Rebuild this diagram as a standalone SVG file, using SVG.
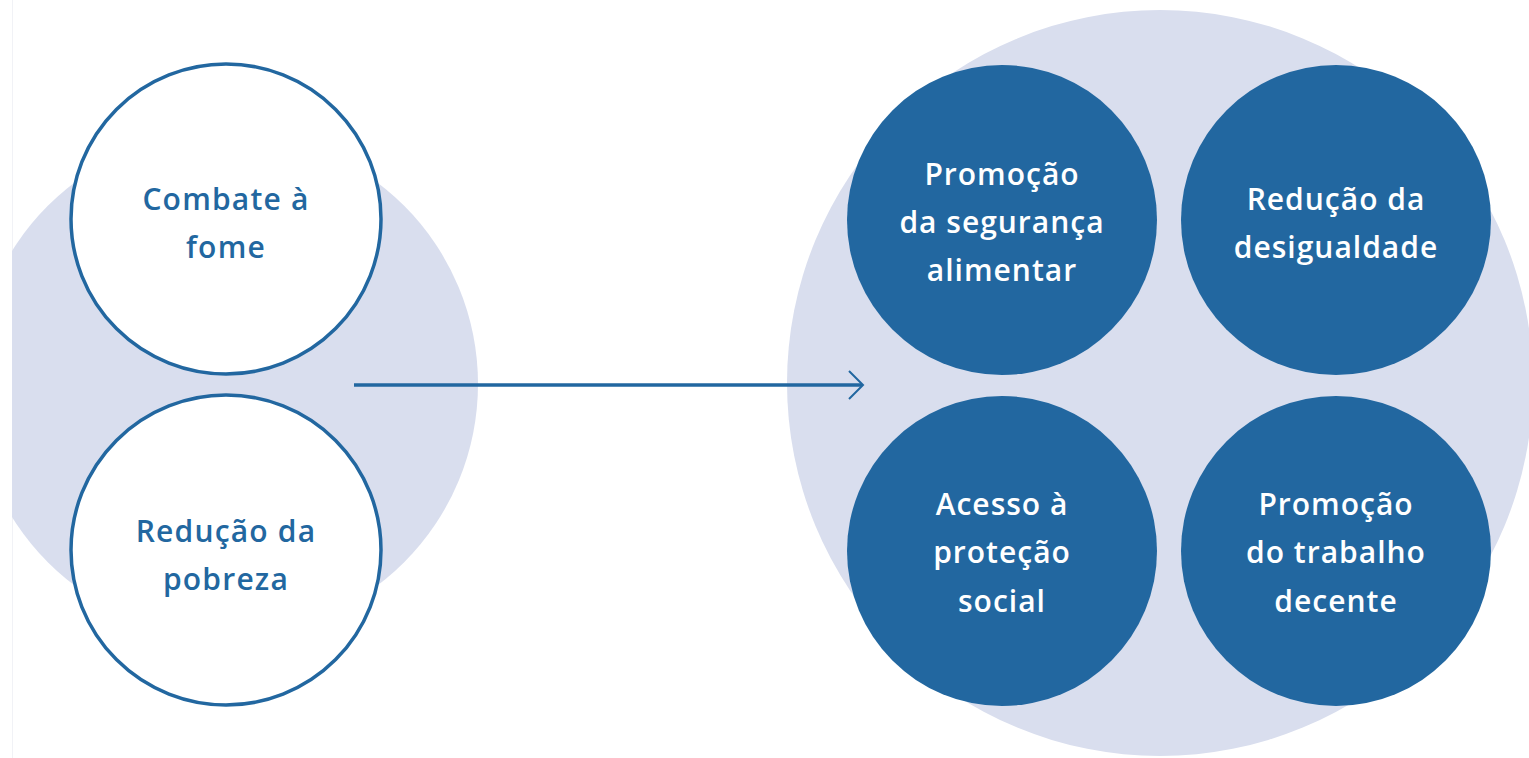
<svg xmlns="http://www.w3.org/2000/svg" width="1529" height="758" viewBox="0 0 1529 758">
<style>
.bg{fill:#D9DEEE}
.outline{fill:#FFFFFF;stroke:#2267A0;stroke-width:3.5}
.solid{fill:#2267A0}
.lt{font-family:"Open Sans","Liberation Sans",sans-serif;font-size:30px;font-weight:600;fill:#2267A0;text-anchor:middle;letter-spacing:1.2px}
.wt{font-family:"Open Sans","Liberation Sans",sans-serif;font-size:30px;font-weight:600;fill:#FFFFFF;text-anchor:middle;letter-spacing:1px}
.conn{stroke:#2267A0;fill:none}
</style>
<defs>
<clipPath id="clipLeft"><rect x="12" y="0" width="600" height="758"/></clipPath>
</defs>
<rect x="0" y="0" width="1529" height="758" fill="#FFFFFF"/>
<line x1="12.5" y1="0" x2="12.5" y2="758" stroke="#F1F2F6" stroke-width="1"/>
<g id="left-group">
<circle class="bg" cx="226" cy="384" r="252" clip-path="url(#clipLeft)"/>
</g>
<g id="right-group">
<circle class="bg" cx="1160" cy="383" r="373"/>
</g>
<g id="connectors">
<line class="conn" x1="354" y1="385" x2="862" y2="385" stroke-width="3.5"/>
<polyline class="conn" points="849,371 863,385 849,399" stroke-width="2"/>
</g>
<g id="node-combate">
<circle class="outline" cx="226" cy="219" r="155"/>
<text class="lt" x="226" y="210">Combate à</text>
<text class="lt" x="226" y="258">fome</text>
</g>
<g id="node-pobreza">
<circle class="outline" cx="226" cy="550" r="155"/>
<text class="lt" x="226" y="542">Redução da</text>
<text class="lt" x="226" y="590">pobreza</text>
</g>
<g id="node-seguranca">
<circle class="solid" cx="1002" cy="220" r="155"/>
<text class="wt" x="1002" y="185">Promoção</text>
<text class="wt" x="1002" y="233">da segurança</text>
<text class="wt" x="1002" y="281">alimentar</text>
</g>
<g id="node-desigualdade">
<circle class="solid" cx="1336" cy="220" r="155"/>
<text class="wt" x="1336" y="210">Redução da</text>
<text class="wt" x="1336" y="258">desigualdade</text>
</g>
<g id="node-protecao">
<circle class="solid" cx="1002" cy="551" r="155"/>
<text class="wt" x="1002" y="515">Acesso à</text>
<text class="wt" x="1002" y="563">proteção</text>
<text class="wt" x="1002" y="612">social</text>
</g>
<g id="node-trabalho">
<circle class="solid" cx="1336" cy="551" r="155"/>
<text class="wt" x="1336" y="515">Promoção</text>
<text class="wt" x="1336" y="563">do trabalho</text>
<text class="wt" x="1336" y="612">decente</text>
</g>
</svg>
